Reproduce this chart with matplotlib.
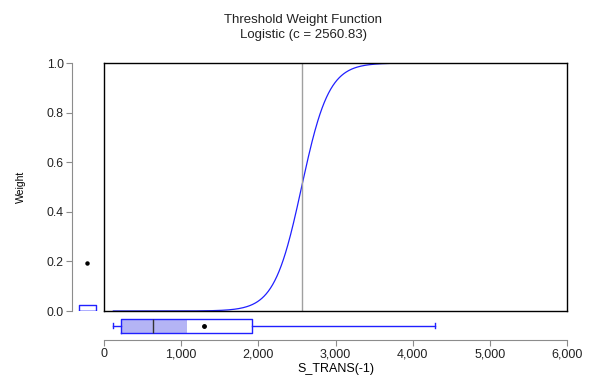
import numpy as np
import matplotlib
matplotlib.use("Agg")
import matplotlib.pyplot as plt

plt.rcParams['font.family'] = ['Liberation Sans', 'DejaVu Sans']

# logistic threshold weight function
c_value = 2560.83
slope = 0.00567
x_min, x_max = 121, 5690  # range of the plotted curve

# marginal box plot of S_TRANS(-1)
x_whislo, x_q1, x_med, x_q3, x_whishi = 121, 220, 640, 1922, 4293
x_mean = 1296
x_shade_hi = 1075

# marginal box plot of the weights
w_q1, w_med, w_q3 = 0.0, 0.0, 0.024
w_outliers = [0.195]

xticks = [0, 1000, 2000, 3000, 4000, 5000, 6000]
xtick_labels = ["0", "1,000", "2,000", "3,000", "4,000", "5,000", "6,000"]
yticks = [0.0, 0.2, 0.4, 0.6, 0.8, 1.0]
ytick_labels = ["0.0", "0.2", "0.4", "0.6", "0.8", "1.0"]

W, H = 592, 376
fig = plt.figure(figsize=(W / 100, H / 100), dpi=100)

def box(l, t, r, b):
    return [l / W, 1 - b / H, (r - l) / W, (b - t) / H]

blue = "#2020ff"
grey = "#8c8c8c"

# main plot
ax = fig.add_axes(box(104, 63, 567, 311))
xs = np.linspace(x_min, x_max, 600)
ws = 1 / (1 + np.exp(-slope * (xs - c_value)))
ax.plot(xs, ws, color=blue, lw=0.9)
ax.axvline(c_value, color="#a0a0a0", lw=1)
ax.set_xlim(0, 6000)
ax.set_ylim(0, 1)
ax.set_xticks([])
ax.set_yticks([])
for s in ax.spines.values():
    s.set_color("black")
    s.set_linewidth(1)

# left axis with weight box plot
axl = fig.add_axes(box(72, 63, 100, 311))
axl.set_xlim(0, 1)
axl.set_ylim(0, 1)
axl.bxp([dict(med=w_med, q1=w_q1, q3=w_q3, whislo=w_q1, whishi=w_q3,
              fliers=w_outliers)],
        positions=[0.54], widths=0.6, showcaps=False,
        boxprops=dict(color=blue, lw=1),
        medianprops=dict(color=blue, lw=1),
        whiskerprops=dict(color=blue),
        flierprops=dict(marker="o", markersize=2.2, markerfacecolor="black",
                        markeredgecolor="black"))
axl.set_xticks([])
axl.set_yticks(yticks)
axl.set_yticklabels(ytick_labels, fontsize=8.8, color="#222222")
axl.tick_params(axis="y", length=4, width=0.8, color=grey, pad=2)
for k in ["top", "right", "bottom"]:
    axl.spines[k].set_visible(False)
axl.spines["left"].set_color(grey)
axl.spines["left"].set_linewidth(0.8)
axl.set_ylabel("Weight", fontsize=7.5, labelpad=15)
axl.patch.set_alpha(0)

# bottom axis with S_TRANS(-1) box plot
axb = fig.add_axes(box(104, 315, 567, 340))
axb.set_xlim(0, 6000)
axb.set_ylim(0, 1)
axb.barh(0.58, x_shade_hi - x_q1, left=x_q1, height=0.56,
         color="#b4b4f5", lw=0)
axb.bxp([dict(med=x_med, q1=x_q1, q3=x_q3, whislo=x_whislo, whishi=x_whishi,
              mean=x_mean, fliers=[])],
        positions=[0.58], widths=0.56, vert=False, showmeans=True,
        boxprops=dict(color=blue, lw=1),
        medianprops=dict(color="#333333", lw=1),
        whiskerprops=dict(color=blue, lw=1),
        capprops=dict(color=blue, lw=1),
        capwidths=0.22,
        meanprops=dict(marker="o", markersize=2.5, markerfacecolor="black",
                       markeredgecolor="black"))
axb.set_yticks([])
axb.set_xticks(xticks)
axb.set_xticklabels(xtick_labels, fontsize=9, color="#222222")
axb.tick_params(axis="x", length=4, width=0.8, color=grey, pad=2)
for k in ["top", "right", "left"]:
    axb.spines[k].set_visible(False)
axb.spines["bottom"].set_color(grey)
axb.spines["bottom"].set_linewidth(0.8)
axb.set_xlabel("S_TRANS(-1)", fontsize=9, labelpad=2)
axb.patch.set_alpha(0)

fig.text(303 / W, 1 - 20 / H, "Threshold Weight Function", ha="center",
         va="center", fontsize=9.5, color="#222222")
fig.text(303 / W, 1 - 35 / H, "Logistic (c = 2560.83)", ha="center",
         va="center", fontsize=9.5, color="#222222")

fig.savefig("out.png", dpi=100)
